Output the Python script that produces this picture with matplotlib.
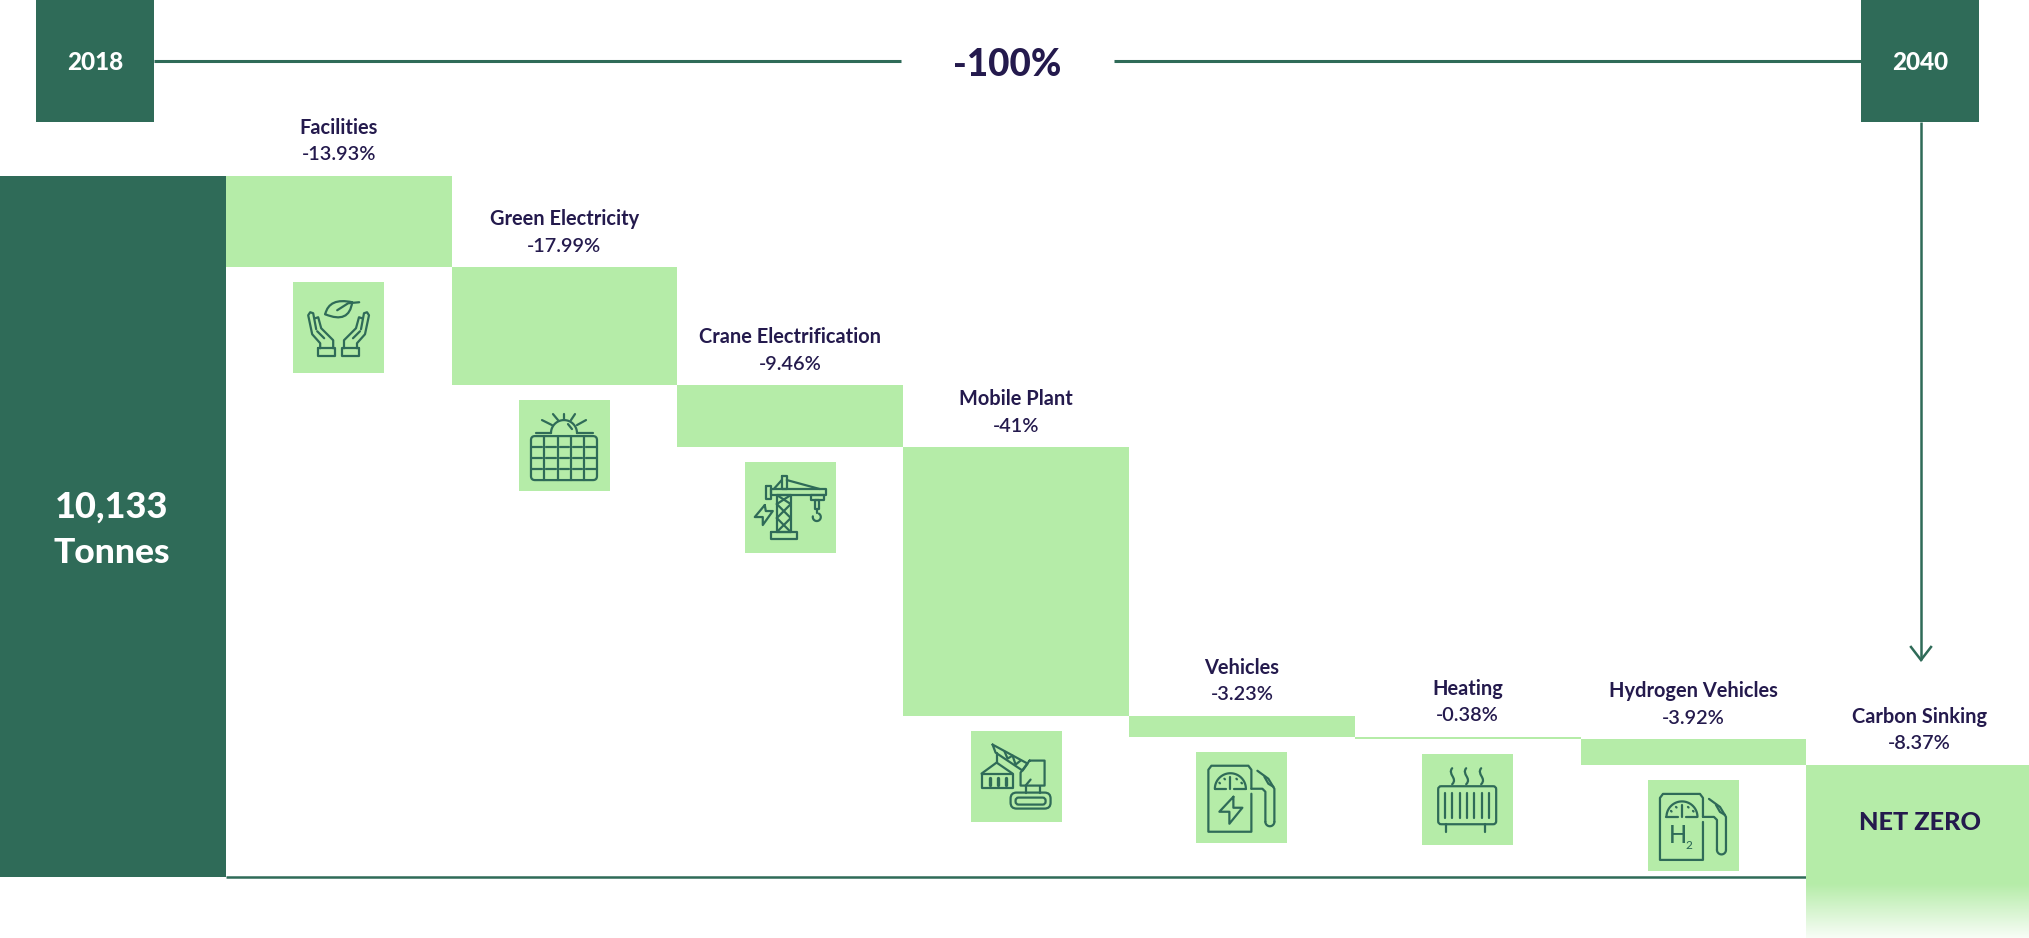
"""Net zero waterfall: emission cuts from 2018 to 2040, one step per measure"""
import numpy as np
import matplotlib
matplotlib.use("Agg")
import matplotlib.pyplot as plt
from matplotlib.patches import FancyBboxPatch, Rectangle, PathPatch
from matplotlib.path import Path

categories = ["Facilities", "Green Electricity", "Crane Electrification", "Mobile Plant",
              "Vehicles", "Heating", "Hydrogen Vehicles", "Carbon Sinking"]
cuts_pct = [13.93, 17.99, 9.46, 41, 3.23, 0.38, 3.92, 8.37]
total_tonnes = 10133
total_pct = 100
start_year = "2018"
end_year = "2040"
overall_label = "-100%"
end_label = "NET ZERO"

DARK = "#2f6b58"
LIGHT = "#b5eca8"
NAVY = "#241a4d"
W, H = 2029, 938

plt.rcParams['font.family'] = ['Lato', 'DejaVu Sans']

fig = plt.figure(figsize=(W / 100, H / 100), dpi=100, facecolor="white")

# value axes: one column per bar, y in percent of the 2018 total
top_px = 176
px_per_pct = 6.55
ax = fig.add_axes([0, 0, 1, 1])
ax.set_xlim(-0.5, 8.486)
ax.set_ylim(total_pct - (H - top_px) / px_per_pct, total_pct + top_px / px_per_pct)
ax.axis("off")

base_level = -7  # the big bar and axis line stop below zero to leave room for the icons
levels = total_pct - np.cumsum(cuts_pct)
tops = levels + np.array(cuts_pct)
xs = np.arange(1, len(categories) + 1)

ax.bar(0, total_pct - base_level, bottom=base_level, width=1, color=DARK, linewidth=0)
ax.bar(xs, cuts_pct, bottom=levels, width=1, color=LIGHT, linewidth=0)
ax.plot([0.5, 7.5], [base_level, base_level], color=DARK, lw=1.8, solid_capstyle="butt")

# overlay in pixels for headers, icons and the fade
ov = fig.add_axes([0, 0, 1, 1])
ov.set_xlim(0, W)
ov.set_ylim(H, 0)
ov.axis("off")
ov.patch.set_alpha(0)


def to_px(x, y):
    px, py = ax.transData.transform((x, y))
    return px * W / fig.bbox.width, H - py * H / fig.bbox.height


def line(x0, y0, pts, lw=1.6):
    ov.plot([x0 + p[0] for p in pts], [y0 + p[1] for p in pts], color=DARK, lw=lw,
            solid_capstyle="round", solid_joinstyle="round", zorder=5)


def rbox(x0, y0, a, b, c, d, r=3.0):
    ov.add_patch(FancyBboxPatch((x0 + a, y0 + b), c - a, d - b,
                                boxstyle=f"round,pad=0,rounding_size={r}",
                                fc="none", ec=DARK, lw=1.6, zorder=5))


def curve(x0, y0, *pts):
    p = [(x0 + a, y0 + b) for a, b in pts]
    codes = [Path.MOVETO] + ([Path.CURVE3] * 2 if len(p) == 3 else [Path.CURVE4] * 3)
    ov.add_patch(PathPatch(Path(p, codes), fc="none", ec=DARK, lw=1.6, capstyle="round", zorder=5))


def arc(x0, y0, cx, cy, r, a0, a1):
    t = np.radians(np.linspace(a0, a1, 40))
    line(x0, y0, list(zip(cx + r * np.cos(t), cy + r * np.sin(t))))


def hands(x, y):
    curve(x, y, (32, 32), (36, 15), (59, 20))
    curve(x, y, (59, 20), (56, 42), (32, 32))
    line(x, y, [(44, 28), (55, 21), (66, 20)])
    for m in (lambda a: a, lambda a: 90.8 - a):
        line(x, y, [(m(25), 66), (m(42), 66), (m(42), 74), (m(25), 74), (m(25), 66)])
        line(x, y, [(m(27), 66), (m(27), 61), (m(19), 52), (m(15), 33), (m(17), 30), (m(20), 31), (m(23), 47)])
        line(x, y, [(m(22), 36), (m(25), 35), (m(28), 46), (m(40), 58), (m(40), 66)])
        line(x, y, [(m(24), 49), (m(31), 56)])


def solar(x, y):
    rbox(x, y, 12, 36, 78, 80, 4)
    for vx in (25, 39, 52, 65):
        line(x, y, [(vx, 36), (vx, 80)])
    for hy in (47, 58, 69):
        for a, b in ((13, 23), (27, 37), (41, 50), (54, 63), (67, 77)):
            line(x, y, [(a, hy), (b, hy)])
    arc(x, y, 45, 33, 13, 180, 360)
    line(x, y, [(17, 33), (32, 33)])
    line(x, y, [(58, 33), (74, 33)])
    for seg in ([(33, 25), (23, 20)], [(39, 20), (34, 14)], [(45, 19), (45, 14)],
                [(52, 20), (56, 14)], [(58, 25), (67, 20)], [(49, 24), (53, 29)]):
        line(x, y, seg)


def box(x, y, a, b, c, d):
    line(x, y, [(a, b), (c, b), (c, d), (a, d), (a, b)])


def crane(x, y):
    box(x, y, 26, 27, 81, 33)
    box(x, y, 21, 24, 26, 37)
    box(x, y, 37, 14, 42, 27)
    line(x, y, [(42, 18), (75, 27)])
    line(x, y, [(29, 27), (37, 18)])
    box(x, y, 32, 33, 46, 70)
    for a, b in ((33, 42), (42, 56), (56, 70)):
        line(x, y, [(32, b), (46, a)])
        line(x, y, [(32, a), (46, b)])
    box(x, y, 26, 70, 52, 77)
    box(x, y, 66, 33, 79, 38)
    box(x, y, 70, 38, 74, 47)
    line(x, y, [(72, 47), (72, 51)])
    arc(x, y, 72, 55, 4, -60, 190)
    line(x, y, [(20, 43), (10, 55), (18, 55), (18, 63), (28, 49), (21, 49), (20, 43)])


def excavator(x, y):
    box(x, y, 11, 43, 42, 57)
    for bx in (19, 27, 35):
        line(x, y, [(bx, 47), (bx, 54)], lw=2.4)
    line(x, y, [(11, 43), (26, 32), (42, 43)])
    line(x, y, [(26, 32), (26, 22)])
    line(x, y, [(22, 14), (57, 33), (52, 40), (25, 22), (22, 14)])
    line(x, y, [(34, 21), (37, 28), (42, 25), (45, 34), (50, 30)])
    line(x, y, [(59, 30), (74, 30), (74, 55), (50, 55), (50, 42), (59, 30)])
    line(x, y, [(55, 55), (60, 49)])
    line(x, y, [(55, 55), (55, 62)])
    line(x, y, [(69, 55), (69, 62)])
    rbox(x, y, 40, 62, 80, 78, 6)
    rbox(x, y, 45, 67, 75, 74, 3)


def pump_body(x, y):
    line(x, y, [(55, 42), (55, 80), (12, 80), (12, 18), (15, 14), (52, 14), (55, 18), (55, 37)])
    line(x, y, [(55, 37), (66, 37), (69, 40), (69, 70)])
    arc(x, y, 73.5, 70, 4.5, 0, 180)
    line(x, y, [(78, 70), (78, 37), (72, 27), (61, 19)])
    line(x, y, [(68, 25), (72, 32), (77, 35)])
    arc(x, y, 34, 37, 15.5, 180, 360)
    line(x, y, [(18.5, 37), (30, 37)])
    line(x, y, [(38, 37), (49.5, 37)])
    line(x, y, [(34, 25), (34, 37)])
    for d in ((23, 31), (28, 27), (40, 27), (45, 31)):
        line(x, y, [d, (d[0] + 0.6, d[1] + 0.6)])


def electric_pump(x, y):
    pump_body(x, y)
    line(x, y, [(37, 45), (23, 60), (33, 60), (33, 72), (46, 56), (37, 56), (37, 45)])


def hydrogen_pump(x, y):
    pump_body(x, y)
    ov.text(x + 30, y + 56, "H", color=DARK, fontsize=17, fontweight="medium", ha="center", va="center", zorder=5)
    ov.text(x + 41, y + 66, "2", color=DARK, fontsize=8.5, fontweight="medium", ha="center", va="center", zorder=5)


def radiator(x, y):
    rbox(x, y, 16, 32, 74, 70, 3)
    for bx in (22.6, 30, 37.5, 45, 52, 59.6, 67):
        line(x, y, [(bx, 39), (bx, 64)])
    line(x, y, [(24, 70), (24, 78)])
    line(x, y, [(63, 70), (63, 78)])
    for cx in (31, 45, 60):
        curve(x, y, (cx - 1, 14), (cx - 6, 20), (cx + 5, 24), (cx - 1, 30))


icons = [hands, solar, crane, excavator, electric_pump, radiator, hydrogen_pump]

# labels above each step, icon tile below it
tile = 91
for i, name in enumerate(categories):
    cx, ty = to_px(xs[i], tops[i])
    ov.text(cx, ty - 48, name, color=NAVY, fontsize=14.4, fontweight="bold", ha="center", va="center")
    ov.text(cx, ty - 21, f"-{cuts_pct[i]:g}%", color=NAVY, fontsize=14.3, ha="center", va="center",
            fontweight="semibold")
    if i < len(icons):
        _, by = to_px(xs[i], levels[i])
        tx, ty2 = cx - tile / 2, by + 15
        ov.add_patch(Rectangle((tx, ty2), tile, tile, fc=LIGHT, ec="none", zorder=4))
        icons[i](tx, ty2)

# net zero block carries on below the last step and fades out
_, last_px = to_px(xs[-1], levels[-1])
left_px, _ = to_px(xs[-1] - 0.5, levels[-1])
ov.add_patch(Rectangle((left_px, last_px - 1), W - left_px, 883 - last_px + 1, fc=LIGHT, ec="none", lw=0))
rgb = np.array(matplotlib.colors.to_rgb(LIGHT))
fade = np.linspace(0, 0.9, 55)[:, None]
ov.imshow((rgb * (1 - fade) + fade)[:, None, :], extent=(left_px, W, 938, 883), aspect="auto", zorder=1)
ov.set_xlim(0, W)
ov.set_ylim(H, 0)
ov.text(1920, 822, end_label, color=NAVY, fontsize=18.2, fontweight="black", ha="center", va="center")

# total on the big bar
ov.text(112, 507, f"{total_tonnes:,}", color="white", fontsize=26, fontweight="black", ha="center", va="center")
ov.text(112, 553, "Tonnes", color="white", fontsize=25.5, fontweight="black", ha="center", va="center")

# header with the two year boxes
ov.add_patch(Rectangle((36, 0), 118, 122, fc=DARK, ec="none"))
ov.add_patch(Rectangle((1861, 0), 118, 122, fc=DARK, ec="none"))
ov.text(95, 63, start_year, color="white", fontsize=17.5, fontweight="black", ha="center", va="center")
ov.text(1920, 63, end_year, color="white", fontsize=17.5, fontweight="black", ha="center", va="center")
ov.plot([154, 901], [61, 61], color=DARK, lw=2.2, solid_capstyle="butt")
ov.plot([1114, 1861], [61, 61], color=DARK, lw=2.2, solid_capstyle="butt")
ov.text(1007, 65, overall_label, color=NAVY, fontsize=26.5, fontweight="black", ha="center", va="center")

# arrow from the end year down to the net zero block
ov.plot([1921, 1921], [122, 660], color=DARK, lw=1.8, solid_capstyle="butt")
ov.plot([1911, 1921, 1931], [647, 660, 647], color=DARK, lw=1.8, solid_joinstyle="miter")

fig.savefig("out.png", dpi=100)
